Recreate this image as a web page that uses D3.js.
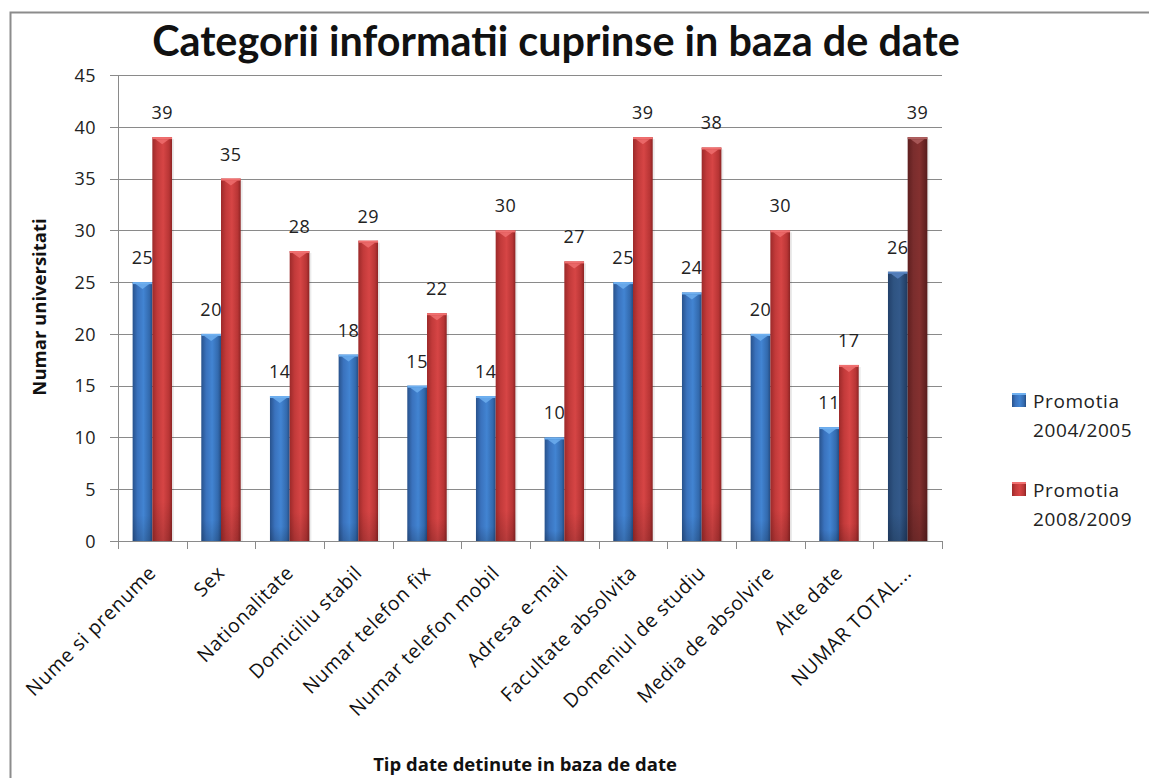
<!DOCTYPE html>
<html><head><meta charset="utf-8">
<script src="https://cdn.jsdelivr.net/npm/d3@7"></script>
<style>body{margin:0;background:#fff}svg{display:block}</style>
</head><body>
<svg id="c" width="1149" height="778"></svg>
<script>
const categories = ["Nume si prenume","Sex","Nationalitate","Domiciliu stabil","Numar telefon fix","Numar telefon mobil","Adresa e-mail","Facultate absolvita","Domeniul de studiu","Media de absolvire","Alte date","NUMAR TOTAL..."];
const seriesNames = ["Promotia 2004/2005","Promotia 2008/2009"];
const promotia2004 = [25,20,14,18,15,14,10,25,24,20,11,26];
const promotia2008 = [39,35,28,29,22,30,27,39,38,30,17,39];
const yTicks = [0,5,10,15,20,25,30,35,40,45];
const titleText = "Categorii informatii cuprinse in baza de date";
const yTitle = "Numar universitati";
const xTitle = "Tip date detinute in baza de date";

const FONT = "'Open Sans', Lato, sans-serif";
const TFONT = "Lato, 'Open Sans', sans-serif";
const svg = d3.select("#c");
const L = 118, R = 942, T = 75, B = 541;

// frame
svg.append("path").attr("d","M10.5,778 V12.5 H1149").attr("fill","none").attr("stroke","#8c8c8c").attr("stroke-width",2);

const defs = svg.append("defs");
function grad(id, stops){
  const g = defs.append("linearGradient").attr("id",id).attr("x1","0").attr("x2","1").attr("y1","0").attr("y2","0");
  stops.forEach(([o,c])=>g.append("stop").attr("offset",o).attr("stop-color",c));
}
grad("gBlue",[[0,"#28528c"],[0.25,"#3a72bd"],[0.55,"#4284d2"],[0.85,"#336aae"],[1,"#254c82"]]);
grad("gRed",[[0,"#9c2a2a"],[0.25,"#c23a3a"],[0.55,"#d64545"],[0.85,"#b83535"],[1,"#8c2424"]]);
grad("gBlueD",[[0,"#22406a"],[0.3,"#2f5482"],[0.6,"#33598a"],[1,"#20395e"]]);
grad("gRedD",[[0,"#5e1f1f"],[0.3,"#7a2d2d"],[0.6,"#83302f"],[1,"#571b1b"]]);
const sh = defs.append("linearGradient").attr("id","gShade").attr("x1","0").attr("x2","0").attr("y1","0").attr("y2","1");
sh.append("stop").attr("offset",0).attr("stop-color","#000").attr("stop-opacity",0);
sh.append("stop").attr("offset",0.9).attr("stop-color","#000").attr("stop-opacity",0);
sh.append("stop").attr("offset",1).attr("stop-color","#000").attr("stop-opacity",0.15);

const x0 = d3.scaleBand().domain(categories).range([L,R]).padding(0);
const x1 = d3.scaleBand().domain([0,1]).range([x0.step()*0.213, x0.step()*0.787]).padding(0);
const y = d3.scaleLinear().domain([0,45]).range([B,T]);

// gridlines
const gGrid = svg.append("g");
yTicks.forEach(t=>{
  gGrid.append("line").attr("x1",L-8).attr("x2",R).attr("y1",Math.round(y(t))+0.5).attr("y2",Math.round(y(t))+0.5)
    .attr("stroke","#8a8a8a").attr("stroke-width",1);
});
svg.append("line").attr("x1",L+0.5).attr("x2",L+0.5).attr("y1",y(45)).attr("y2",y(0)).attr("stroke","#8a8a8a");
d3.range(categories.length+1).forEach(i=>{
  const xx = Math.round(L + i*x0.step())+0.5;
  svg.append("line").attr("x1",xx).attr("x2",xx).attr("y1",B).attr("y2",B+8).attr("stroke","#8a8a8a");
});

// y tick labels
const yAxis = d3.axisLeft(y).tickValues(yTicks).tickSize(0).tickPadding(0);
const ya = svg.append("g").attr("transform",`translate(${L-22},0)`).call(yAxis);
ya.select(".domain").remove();
ya.selectAll("text").attr("font-family",FONT).attr("font-size",18).attr("fill","#222").attr("dy","0.35em").attr("letter-spacing","0.5px");

// bars
const series = [promotia2004, promotia2008];
categories.forEach((c,i)=>{
  series.forEach((vals,s)=>{
    const v = vals[i];
    const bx = x0(c)+x1(s), bw = x1.bandwidth(), by = y(v), bh = y(0)-y(v);
    const last = i===categories.length-1;
    const fill = s===0 ? (last?"url(#gBlueD)":"url(#gBlue)") : (last?"url(#gRedD)":"url(#gRed)");
    svg.append("rect").attr("x",bx+2).attr("y",by+2).attr("width",bw).attr("height",bh-2).attr("fill","#000").attr("opacity",0.08);
    svg.append("rect").attr("x",bx).attr("y",by).attr("width",bw).attr("height",bh).attr("fill",fill);
    svg.append("rect").attr("x",bx).attr("y",by).attr("width",bw).attr("height",bh).attr("fill","url(#gShade)");
    const capCol = s===0 ? (last?"#5a86c4":"#6fb0f0") : (last?"#b06060":"#f07070");
    svg.append("rect").attr("x",bx).attr("y",by).attr("width",bw).attr("height",2).attr("fill",capCol);
    svg.append("path").attr("d",`M${bx+3},${by+2} L${bx+bw-3},${by+2} L${bx+bw/2},${by+7} Z`).attr("fill",capCol).attr("opacity",0.8);
    svg.append("text").attr("x",bx+bw/2).attr("y",by-18).attr("text-anchor","middle")
      .attr("font-family",FONT).attr("font-size",18).attr("fill","#222").attr("letter-spacing","0.5px").text(v);
  });
});

// x labels
categories.forEach((c,i)=>{
  const cx = x0(c)+x0.bandwidth()/2;
  svg.append("text").attr("transform",`translate(${cx+5},${574}) rotate(-45)`).attr("text-anchor","end")
    .attr("font-family",FONT).attr("font-size",19.5).attr("letter-spacing","0.7px").attr("fill","#111").text(c);
});

// title
const tt = svg.append("text").attr("x",556).attr("y",56).attr("text-anchor","middle")
  .attr("font-family",TFONT).attr("font-weight","bold").attr("font-size",36).attr("fill","#111").text(titleText);
const tw = tt.node().getComputedTextLength();
tt.attr("font-size",36*808/tw);

// axis titles
svg.append("text").attr("transform","translate(46,307) rotate(-90)").attr("text-anchor","middle")
  .attr("font-family",FONT).attr("font-weight","bold").attr("font-size",18.5).attr("fill","#111").text(yTitle);
svg.append("text").attr("x",525).attr("y",771).attr("text-anchor","middle")
  .attr("font-family",FONT).attr("font-weight","bold").attr("font-size",18.5).attr("fill","#111").text(xTitle);

// legend
const legFills = ["url(#gBlue)","url(#gRed)"];
const legY = [393,482];
seriesNames.forEach((n,k)=>{
  const g = svg.append("g").attr("transform",`translate(1012,${legY[k]})`);
  g.append("rect").attr("width",14).attr("height",14).attr("fill",legFills[k]);
  g.append("rect").attr("width",14).attr("height",2).attr("fill",k===0?"#6fb0f0":"#f07070");
  n.split(" ").forEach((p,j)=>{
    g.append("text").attr("x",21).attr("y",15+j*29).attr("font-family",FONT).attr("font-size",19).attr("letter-spacing","0.6px").attr("fill","#222").text(p);
  });
});
</script>
</body></html>
